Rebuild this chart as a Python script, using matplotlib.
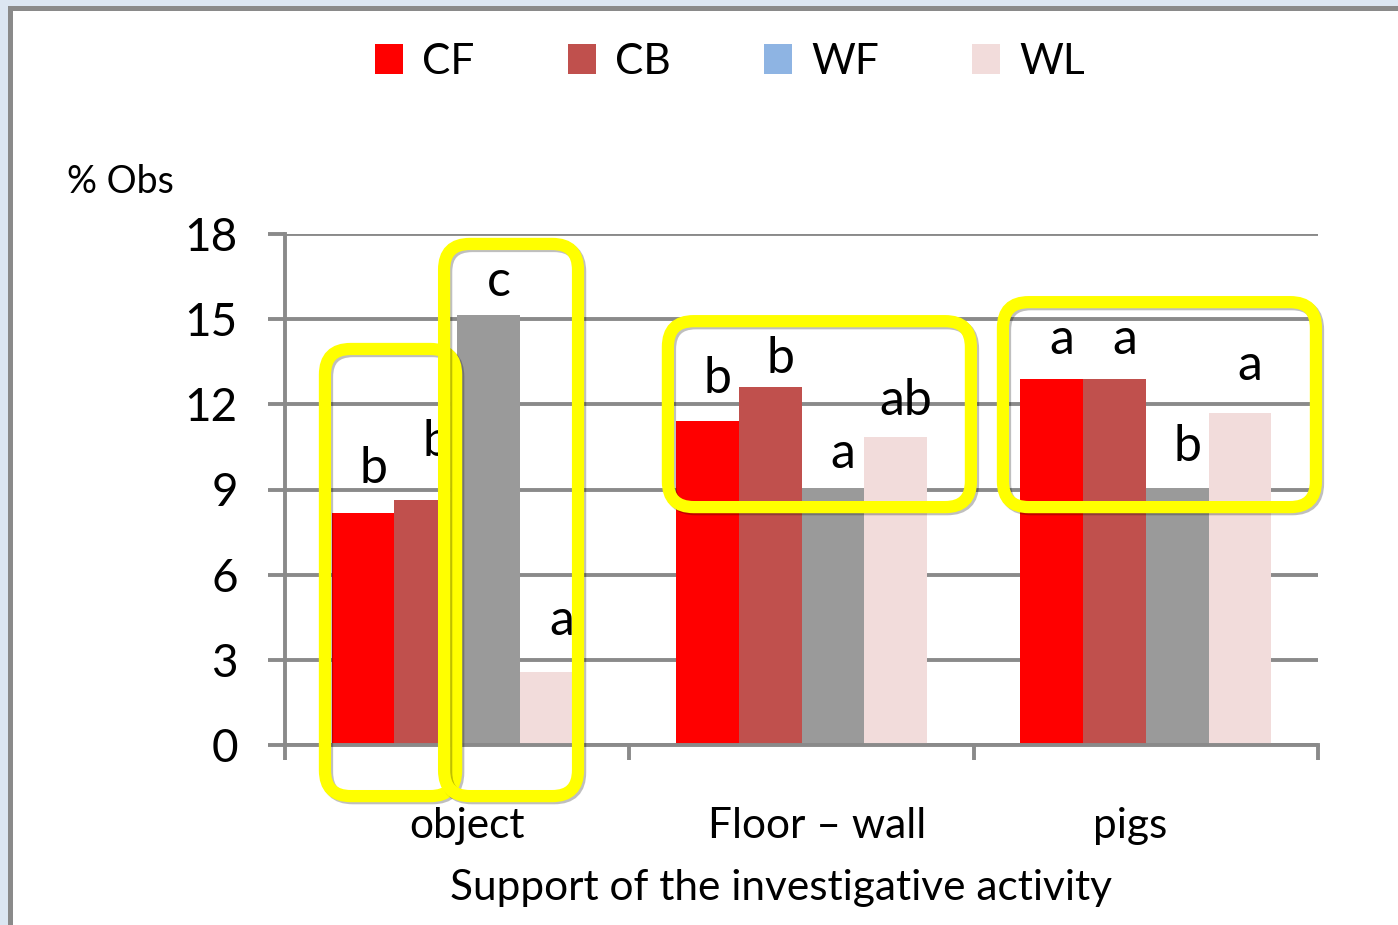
import numpy as np
import matplotlib
matplotlib.use("Agg")
import matplotlib.pyplot as plt
from matplotlib.patches import Patch, Rectangle, FancyBboxPatch
import matplotlib.patheffects as pe
import matplotlib.transforms as mtransforms

plt.rcParams['font.family'] = ['Lato', 'DejaVu Sans']

# ---- data ----
categories = ["object", "Floor \u2013 wall", "pigs"]
series = ["CF", "CB", "WF", "WL"]
cf = [8.18, 11.42, 12.90]
cb = [8.63, 12.62, 12.90]
wf = [15.14, 9.07, 9.04]
wl = [2.58, 10.86, 11.71]
values = [cf, cb, wf, wl]
bar_colors = ["#ff0000", "#c0504d", "#9a9a9a", "#f2dcdb"]
legend_colors = ["#ff0000", "#c0504d", "#8eb4e3", "#f2dcdb"]
letters = [["b", "b", "c", "a"],
           ["b", "b", "a", "ab"],
           ["a", "a", "b", "a"]]
letter_y = [[9.23, 10.18, 15.82, 3.87],
            [12.40, 13.10, 9.76, 11.62],
            [13.77, 13.77, 10.00, 12.86]]
yticks = [0, 3, 6, 9, 12, 15, 18]
# highlight boxes: (x0, x1, y0, y1) in category / value units
boxes = [(-0.384, -0.003, -1.80, 13.95),
         (-0.038, 0.351, -1.80, 17.65),
         (0.612, 1.492, 8.38, 14.93),
         (1.585, 2.494, 8.38, 15.60)]
label_shift_pt = [7, 11, -11]

W, H = 1398, 925
fig = plt.figure(figsize=(W / 100, H / 100), dpi=100)
fig.patch.set_facecolor("#dce6f2")
fig.add_artist(Rectangle((9.5 / W, -0.2), 1.5, (H - 7.5) / H + 0.2,
                         transform=fig.transFigure, facecolor="white",
                         edgecolor="#8a8a8a", lw=3.6, zorder=-5))

ax = fig.add_axes([285 / W, 180 / H, 1033 / W, 511 / H])
ax.set_facecolor("none")
grid_c = "#8a8a8a"

x = np.arange(len(categories))
bw = 0.182
for i, (vals, col) in enumerate(zip(values, bar_colors)):
    ax.bar(x + (i - 1.5) * bw, vals, width=bw, color=col, linewidth=0, zorder=2)

ax.set_xlim(-0.5, 2.5)
ax.set_ylim(0, 18)
ax.set_axisbelow(True)
ax.set_yticks(yticks)
ax.set_yticklabels([str(v) for v in yticks])
ax.yaxis.grid(True, color=grid_c, lw=2.8)
for s in ["top", "right"]:
    ax.spines[s].set_visible(False)
for s in ["left", "bottom"]:
    ax.spines[s].set_color(grid_c)
    ax.spines[s].set_linewidth(2.8)
    ax.spines[s].set_zorder(3)
ax.tick_params(axis="y", direction="out", length=12, width=2.8, color=grid_c,
               pad=22, labelsize=33)
ax.set_xticks([-0.5, 0.5, 1.5, 2.5])
ax.set_xticklabels([])
ax.tick_params(axis="x", which="major", direction="out", length=11, width=2.8,
               color=grid_c)
ax.set_xticks(x, minor=True)
ax.set_xticklabels(categories, minor=True)
ax.tick_params(axis="x", which="minor", length=0, pad=67, labelsize=30.5)
for t, dx in zip(ax.get_xticklabels(minor=True), label_shift_pt):
    t.set_va("baseline")
    t.set_transform(t.get_transform() +
                    mtransforms.ScaledTranslation(dx / 72, 0, fig.dpi_scale_trans))

# letters
for ci in range(len(categories)):
    for si in range(len(series)):
        ax.text(x[ci] + (si - 1.5) * bw + 0.03, letter_y[ci][si], letters[ci][si],
                ha="center", va="baseline", fontsize=36, zorder=4, clip_on=False)

# yellow rounded boxes
pos = ax.get_position()
aspect = (pos.width * W / 3.0) / (pos.height * H / 18.0)
for k, (x0, x1, y0, y1) in enumerate(boxes):
    p = FancyBboxPatch((x0, y0), x1 - x0, y1 - y0,
                       boxstyle="round,pad=0,rounding_size=0.075",
                       mutation_aspect=aspect, transform=ax.transData,
                       fill=False, edgecolor="#ffff00", lw=8.8,
                       clip_on=False, zorder=6 + k)
    p.set_path_effects([pe.SimpleLineShadow(offset=(1.5, -1.5), shadow_color="k",
                                            alpha=0.25), pe.Normal()])
    ax.add_patch(p)

# axis titles
fig.text(67 / W, (H - 193) / H, "% Obs", fontsize=27, ha="left", va="baseline")
fig.text(781 / W, (H - 900) / H, "Support of the investigative activity",
         fontsize=30.5, ha="center", va="baseline")

handles = [Patch(facecolor=c, edgecolor="none") for c in legend_colors]
fig.legend(handles, series, ncol=4, loc="center",
           bbox_to_anchor=(730 / W, (H - 62) / H), frameon=False,
           fontsize=30.5, handlelength=0.66, handleheight=0.72,
           handletextpad=0.45, columnspacing=2.2, borderpad=0)

fig.savefig("out.png", dpi=100, facecolor=fig.get_facecolor())
